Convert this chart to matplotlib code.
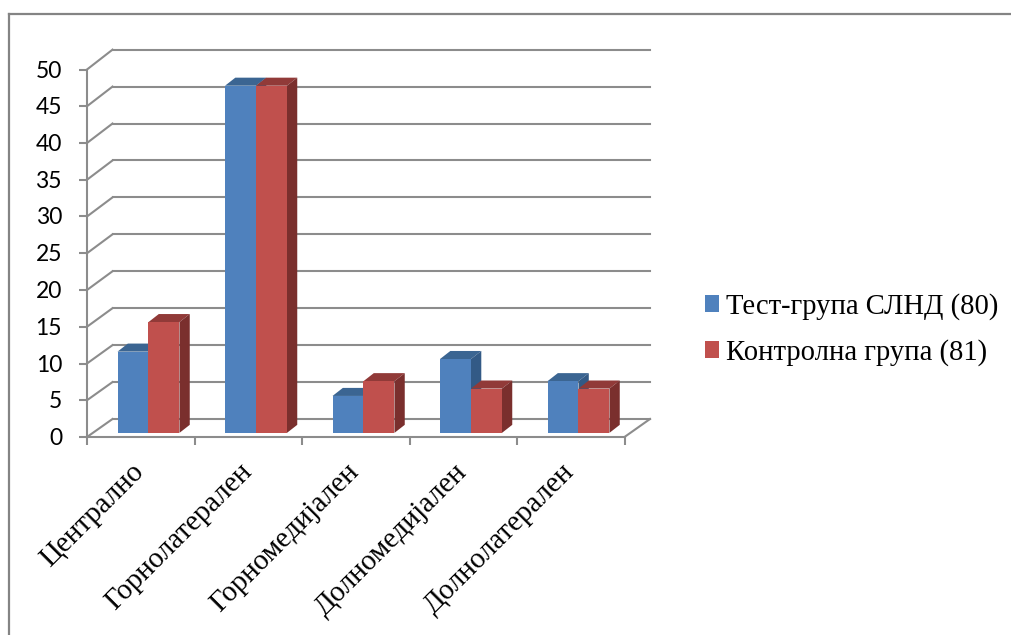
import numpy as np
import matplotlib
matplotlib.use('Agg')
import matplotlib.pyplot as plt
from matplotlib.transforms import Affine2D, ScaledTranslation

categories = ['Централно', 'Горнолатерален', 'Горномедијален', 'Долномедијален', 'Долнолатерален']
test_group = [11, 47, 5, 10, 7]
control_group = [15, 47, 7, 6, 6]
series_names = ['Тест-група СЛНД (80)', 'Контролна група (81)']
y_ticks = np.arange(0, 55, 5)

W, H = 1011, 635
GRID = '#8c8c8c'

# pixels per unit on the two axes
PX_X = 107.5
PX_Y = 7.35

# how far the back wall sits behind the front plane, in data units
WALL_DX = 25.5 / PX_X
WALL_DY = 18.0 / PX_Y
# planes further back come out very slightly taller
PLANE_SCALE = 1.005
# bars stand a little in front of the wall and have their own depth
BAR_DY = 4.1 / PX_Y
DEPTH_DX = 10.3 / PX_X
DEPTH_DY = 8.0 / PX_Y
BAR_START = 0.284
BAR_W = 0.288

fig = plt.figure(figsize=(W / 100, H / 100), dpi=100)
ax = fig.add_axes([87 / W, (H - 437) / H, 5 * PX_X / W, 50 * PX_Y / H])
ax.set_xlim(0, 5)
ax.set_ylim(0, 50)
ax.patch.set_alpha(0)
plane = Affine2D().scale(1, PLANE_SCALE) + ax.transData

# outer frame, only top and left show
fig.add_artist(plt.Line2D([9 / W, 9 / W], [0, (H - 14) / H], color='#848484', lw=1.6))
fig.add_artist(plt.Line2D([9 / W, 1], [(H - 14) / H, (H - 14) / H], color='#848484', lw=1.6))

# back wall gridlines and the slanted lines on the side wall
for v in y_ticks:
    back = v * PLANE_SCALE + WALL_DY
    ax.plot([WALL_DX, 5 + WALL_DX], [back, back], color=GRID, lw=1.5, clip_on=False, zorder=1)
    ax.plot([0, WALL_DX], [v, back], color=GRID, lw=1.5, clip_on=False, zorder=1)
# right edge of the floor
ax.plot([5, 5 + WALL_DX], [0, WALL_DY], color=GRID, lw=1.5, clip_on=False, zorder=1)


def draw_depth(x, values, base, top_col, side_col, z):
    for xi, val in zip(x, values):
        x0, x1 = xi, xi + BAR_W
        y0, y1 = base, base + val
        # top face
        ax.fill([x0, x1, x1 + DEPTH_DX, x0 + DEPTH_DX], [y1, y1, y1 + DEPTH_DY, y1 + DEPTH_DY],
                color=top_col, lw=0, clip_on=False, zorder=z, transform=plane)
        # side face
        ax.fill([x1, x1 + DEPTH_DX, x1 + DEPTH_DX, x1], [y0, y0 + DEPTH_DY, y1 + DEPTH_DY, y1],
                color=side_col, lw=0, clip_on=False, zorder=z, transform=plane)


pos = np.arange(len(categories)) + BAR_START
draw_depth(pos, test_group, BAR_DY, '#3b6592', '#335a86', 3)
draw_depth(pos + BAR_W, control_group, BAR_DY, '#913a38', '#7a2f2d', 4)
b1 = ax.bar(pos, test_group, BAR_W, bottom=BAR_DY, align='edge', color='#4f81bd', lw=0,
            label=series_names[0], zorder=3.5, clip_on=False, transform=plane)
b2 = ax.bar(pos + BAR_W, control_group, BAR_W, bottom=BAR_DY, align='edge', color='#c0504d', lw=0,
            label=series_names[1], zorder=4.5, clip_on=False, transform=plane)

# axes
for s in ['top', 'right']:
    ax.spines[s].set_visible(False)
for s in ['left', 'bottom']:
    ax.spines[s].set_color(GRID)
    ax.spines[s].set_linewidth(1.5)
ax.set_xticks(np.arange(0, 6))
ax.set_xticklabels([])
ax.set_yticks(y_ticks)
ax.set_yticklabels([str(v) for v in y_ticks], family='Lato', fontsize=16.5, color='black', va='center')
ax.tick_params(axis='both', length=6, width=1.5, color=GRID)
ax.tick_params(axis='y', pad=12)
# numbers sit a touch below their ticks
for t in ax.yaxis.get_major_ticks():
    t.label1.set_transform(t.label1.get_transform() + ScaledTranslation(0, -0.015, fig.dpi_scale_trans))

for i, name in enumerate(categories):
    ax.text(i + 0.41, -3.0, name, rotation=45, rotation_mode='anchor', ha='right', va='top',
            family='Liberation Serif', fontsize=20.9, color='black', clip_on=False)

ax.legend(handles=[b1, b2], loc='upper left', bbox_to_anchor=(705 / W, (H - 293) / H),
          bbox_transform=fig.transFigure, frameon=False, borderpad=0, borderaxespad=0,
          handlelength=0.49, handleheight=0.49, handletextpad=0.23, labelspacing=0.67,
          prop={'family': 'Liberation Serif', 'size': 20.6})

fig.savefig('out.png', dpi=100)
